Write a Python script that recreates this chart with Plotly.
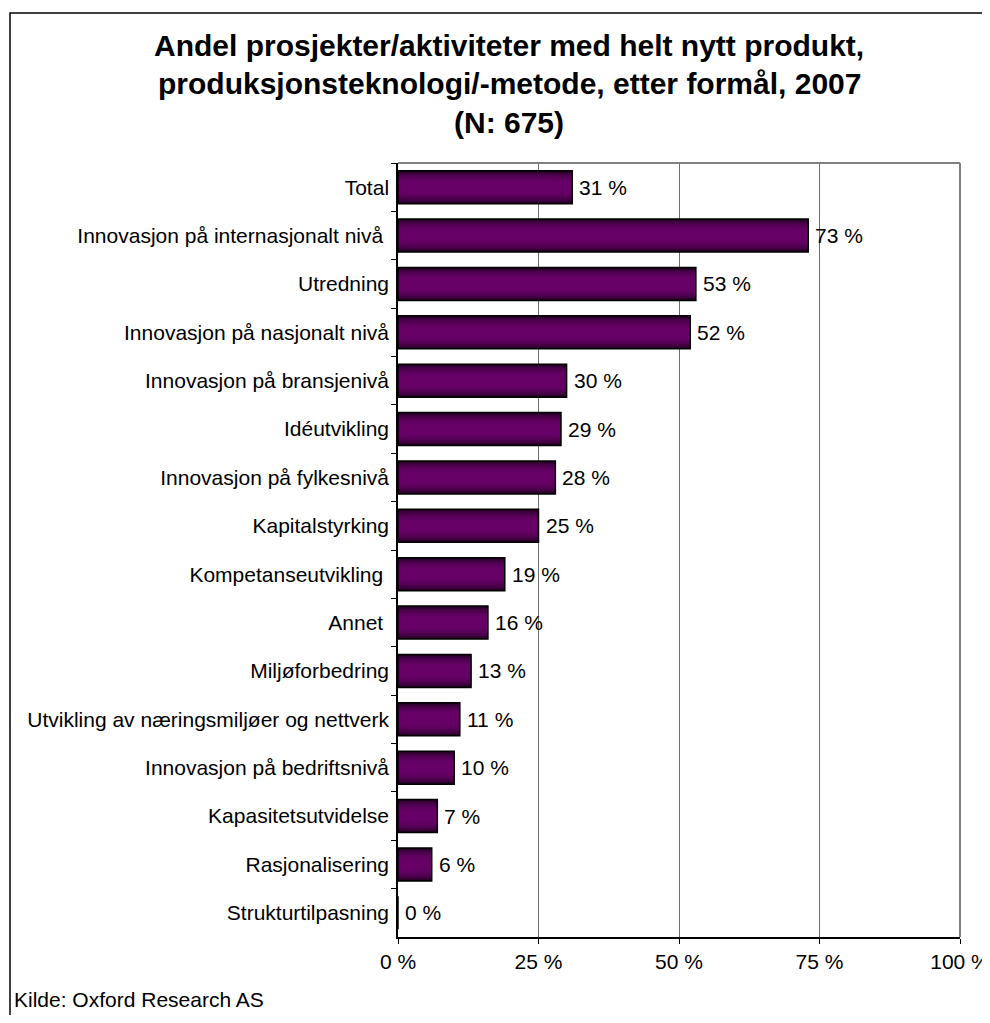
import plotly.graph_objects as go

categories = ["Total", "Innovasjon på internasjonalt nivå ", "Utredning", "Innovasjon på nasjonalt nivå",
              "Innovasjon på bransjenivå", "Idéutvikling", "Innovasjon på fylkesnivå", "Kapitalstyrking",
              "Kompetanseutvikling ", "Annet ", "Miljøforbedring", "Utvikling av næringsmiljøer og nettverk",
              "Innovasjon på bedriftsnivå", "Kapasitetsutvidelse", "Rasjonalisering", "Strukturtilpasning"]
values = [31, 73, 53, 52, 30, 29, 28, 25, 19, 16, 13, 11, 10, 7, 6, 0]
labels = [f"{v} %" for v in values]
tick_vals = [0, 25, 50, 75, 100]
tick_text = ["0 %", "25 %", "50 %", "75 %", "100 %"]

title_lines = ["Andel prosjekter/aktiviteter med helt nytt produkt,",
               "produksjonsteknologi/-metode, etter formål, 2007",
               "(N: 675)"]
source = "Kilde: Oxford Research AS"

FONT = "Liberation Sans, Arial, sans-serif"
OFF = 8  # default body margin of the html page
W, H = 990 - OFF, 1023 - 2 * OFF
L, T = 398 - OFF, 163 - OFF
R = W - (960 - OFF)
B = H - (937 - OFF)
FS = 21

fig = go.Figure()

# gradient layers (outer dark -> inner light)
layers = [(0.68, "#1a001a"), (0.65, "#280028"), (0.61, "#360036"), (0.56, "#430043"),
          (0.50, "#4e004e"), (0.43, "#580058"), (0.35, "#600060"), (0.26, "#660066")]
for w, c in layers:
    fig.add_trace(go.Bar(x=values, y=categories, orientation="h", width=w,
                         marker=dict(color=c, line=dict(width=0)),
                         hoverinfo="skip", showlegend=False))
# outline
fig.add_trace(go.Bar(x=values, y=categories, orientation="h", width=0.68,
                     marker=dict(color="rgba(0,0,0,0)", line=dict(color="black", width=1.5)),
                     showlegend=False))

# value labels
for cat, v, lab in zip(categories, values, labels):
    fig.add_annotation(x=v, y=cat, text=lab, xref="x", yref="y", xanchor="left",
                       yanchor="middle", xshift=5, showarrow=False,
                       font=dict(family=FONT, size=FS, color="black"))

fig.update_layout(
    width=W, height=H, barmode="overlay", autosize=False,
    margin=dict(l=L, r=R, t=T, b=B, autoexpand=False),
    paper_bgcolor="white", plot_bgcolor="white",
    font=dict(family=FONT, size=FS, color="black"),
)
fig.update_xaxes(range=[0, 100], tickvals=tick_vals, ticktext=tick_text,
                 showgrid=True, gridcolor="#6e6e6e", gridwidth=1,
                 showline=True, linecolor="black", linewidth=1.5,
                 ticks="outside", ticklen=5, tickcolor="black", ticklabeloverflow="allow",
                 automargin=False,
                 tickfont=dict(family=FONT, size=FS), zeroline=False, fixedrange=True)
fig.update_yaxes(autorange="reversed", type="category", tickson="boundaries",
                 showline=True, linecolor="black", linewidth=1.5, automargin=False,
                 ticks="outside", ticklen=5, tickcolor="black", showgrid=False,
                 tickfont=dict(family=FONT, size=FS), ticklabelstandoff=3)

# plot area top/right gray border
fig.add_shape(type="line", xref="x domain", yref="y domain", x0=0, x1=1, y0=1, y1=1,
              line=dict(color="#808080", width=2))
fig.add_shape(type="line", xref="x domain", yref="y domain", x0=1, x1=1, y0=0, y1=1,
              line=dict(color="#808080", width=2))

# helpers: page pixel -> paper coords
def px_x(p):
    return (p - OFF - L) / (W - L - R)
def px_y(p):
    return 1 - (p - OFF - T) / (H - T - B)

fig.add_shape(type="rect", xref="paper", yref="paper",
              x0=px_x(10), x1=px_x(1100), y0=px_y(1100), y1=px_y(13),
              line=dict(color="black", width=1.5), fillcolor="rgba(0,0,0,0)", layer="below")

for i, line in enumerate(title_lines):
    fig.add_annotation(text=f"<b>{line}</b>", xref="paper", yref="paper",
                       x=px_x(509), y=px_y(45 + i * 38.5), xanchor="center", yanchor="middle",
                       showarrow=False, font=dict(family=FONT, size=30, color="black"))

fig.add_annotation(text=source, xref="paper", yref="paper", x=px_x(12), y=px_y(1000),
                   xanchor="left", yanchor="middle", showarrow=False,
                   font=dict(family=FONT, size=FS, color="black"))

fig.write_html("out.html", config={"responsive": False})
